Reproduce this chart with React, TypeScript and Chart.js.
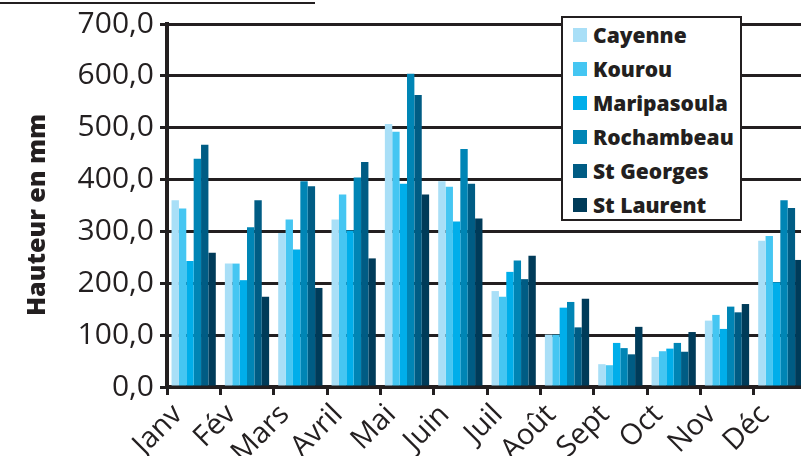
import React, { useEffect, useRef } from "react";
import { Chart, registerables } from "chart.js";

Chart.register(...registerables);

const months = ["Janv", "Fév", "Mars", "Avril", "Mai", "Juin", "Juil", "Août", "Sept", "Oct", "Nov", "Déc"];
const stations = ["Cayenne", "Kourou", "Maripasoula", "Rochambeau", "St Georges", "St Laurent"];
const cayenne = [360, 238, 297, 323, 507, 397, 185, 101, 44, 58, 128, 282];
const kourou = [344, 238, 323, 371, 492, 386, 174, 101, 42, 69, 139, 291];
const maripasoula = [243, 206, 265, 302, 392, 319, 222, 153, 85, 74, 112, 202];
const rochambeau = [440, 308, 397, 404, 604, 459, 244, 164, 75, 85, 155, 360];
const stGeorges = [467, 360, 387, 434, 563, 392, 208, 115, 63, 68, 144, 345];
const stLaurent = [259, 174, 191, 248, 371, 325, 253, 170, 116, 106, 160, 245];
const seriesValues = [cayenne, kourou, maripasoula, rochambeau, stGeorges, stLaurent];
const colors = ["#a9dff7", "#45c6f2", "#00aeea", "#0085b5", "#005c84", "#003b59"];
const yTitle = "Hauteur en mm";
const INK = "#231f20";
const FONT = "'Open Sans', 'Noto Sans', sans-serif";

const labelPlugin = {
  id: "customLabels",
  afterDraw(chart: any) {
    const ctx = chart.ctx;
    const xs = chart.scales.x;
    const area = chart.chartArea;
    const cat = (xs.right - xs.left) / months.length;
    ctx.save();
    ctx.fillStyle = INK;
    ctx.font = `29px ${FONT}`;
    ctx.textAlign = "right";
    ctx.textBaseline = "middle";
    months.forEach((m, i) => {
      const x = xs.getPixelForValue(i) - cat / 2 + 11;
      const y = area.bottom + 23;
      ctx.save();
      ctx.translate(x, y);
      ctx.rotate(-Math.PI / 4);
      ctx.fillText(m, 0, 0);
      ctx.restore();
    });
    ctx.save();
    ctx.font = `800 25px ${FONT}`;
    ctx.textAlign = "center";
    ctx.textBaseline = "alphabetic";
    ctx.translate(45, 215);
    ctx.rotate(-Math.PI / 2);
    ctx.fillText(yTitle, 0, 0);
    ctx.restore();
    ctx.restore();
  },
};

export default function App() {
  const ref = useRef<HTMLCanvasElement>(null);
  useEffect(() => {
    if (!ref.current) return;
    const chart = new Chart(ref.current, {
      type: "bar",
      data: {
        labels: months,
        datasets: stations.map((s, i) => ({
          label: s,
          data: seriesValues[i],
          backgroundColor: colors[i],
          borderWidth: 0,
          categoryPercentage: 0.83,
          barPercentage: 1.0,
        })),
      },
      options: {
        animation: false,
        responsive: true,
        maintainAspectRatio: false,
        devicePixelRatio: 1,
        layout: { padding: { left: 0, right: 1, top: 16, bottom: 0 } },
        plugins: { legend: { display: false }, tooltip: { enabled: false } },
        scales: {
          x: {
            offset: true,
            afterFit: (s: any) => {
              s.height = 456 - 387;
            },
            grid: {
              offset: true,
              drawOnChartArea: false,
              drawTicks: true,
              tickLength: 8,
              color: INK,
              lineWidth: 3,
            },
            border: { display: true, color: INK, width: 4 },
            ticks: { display: false },
          },
          y: {
            min: 0,
            max: 700,
            afterFit: (s: any) => {
              s.width = 167;
            },
            ticks: {
              stepSize: 100,
              padding: 6,
              color: INK,
              font: { family: FONT, size: 30 },
              callback: (v: any) => Number(v).toFixed(1).replace(".", ","),
            },
            grid: { color: INK, lineWidth: 3, tickLength: 7, drawTicks: true },
            border: { display: true, color: INK, width: 4 },
          },
        },
      },
      plugins: [labelPlugin],
    });
    return () => chart.destroy();
  }, []);

  return (
    <div style={{ position: "absolute", left: 0, top: 0, width: 801, height: 456, overflow: "hidden", background: "#fff" }}>
      <div style={{ position: "absolute", left: 0, top: 2, width: 315, height: 2, background: INK }} />
      <div style={{ position: "absolute", left: 0, top: 0, width: 808, height: 456 }}>
        <canvas ref={ref} />
      </div>
      <div
        style={{
          position: "absolute",
          left: 561,
          top: 16,
          width: 177,
          height: 201,
          border: `2px solid ${INK}`,
          background: "#fff",
          fontFamily: FONT,
          fontWeight: 800,
          fontSize: 21,
          color: INK,
        }}
      >
        {stations.map((s, i) => (
          <div
            key={s}
            style={{
              position: "absolute",
              left: 10,
              top: 17 + i * 34 - 15,
              height: 30,
              display: "flex",
              alignItems: "center",
              whiteSpace: "nowrap",
              lineHeight: "30px",
            }}
          >
            <span style={{ display: "inline-block", width: 14, height: 14, background: colors[i], marginRight: 6 }} />
            <span>{s}</span>
          </div>
        ))}
      </div>
    </div>
  );
}
